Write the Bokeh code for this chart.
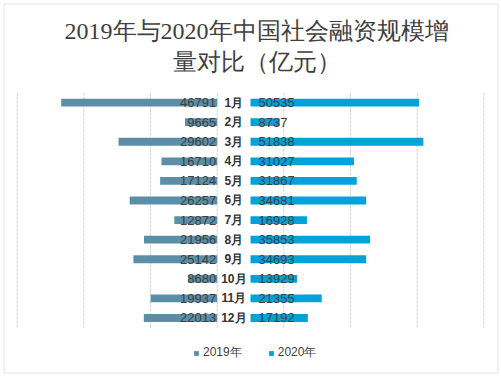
from bokeh.plotting import figure
from bokeh.models import ColumnDataSource, Range1d, Legend, LegendItem, Label, BoxAnnotation
from bokeh.core.properties import value
from bokeh.embed import file_html
from bokeh.resources import INLINE

# ---- data ----
months = ["1月", "2月", "3月", "4月", "5月", "6月", "7月", "8月", "9月", "10月", "11月", "12月"]
v2019 = [46791, 9665, 29602, 16710, 17124, 26257, 12872, 21956, 25142, 8680, 19937, 22013]
v2020 = [50535, 8737, 51838, 31027, 31867, 34681, 16928, 35853, 34693, 13929, 21355, 17192]
series = ["2019年", "2020年"]
title_lines = ["2019年与2020年中国社会融资规模增", "量对比（亿元）"]
grid_ticks = [-60000, -40000, -20000, 0, 20000, 40000, 60000, 80000]

# ---- layout constants (pixels) ----
W, H = 499, 375
GAP = 10000          # space between the two halves (value units) for month labels
UPP = 300            # value units per pixel
ZERO_PX = 216.7      # x pixel of the zero line
TOP_PX = 92.3        # y pixel of the top of the first row band
ROW_PX = 19.58       # pixel height of one row band
C19 = "#5B8FA8"
C20 = "#00A2DA"
TXT = "#404040"
FONT = "Liberation Sans"
TFONT = "Liberation Serif"


def X(px):
    return (px - ZERO_PX) * UPP


def Y(py):
    return 0.5 + (py - TOP_PX) / ROW_PX


n = len(months)
rows = [float(i + 1) for i in range(n)]
src = ColumnDataSource(dict(
    y=rows,
    month=months,
    left19=[-float(v) for v in v2019],
    right20=[float(GAP + v) for v in v2020],
    lab19=[str(v) for v in v2019],
    lab20=[str(v) for v in v2020],
))

p = figure(frame_width=W, frame_height=H,
           x_range=Range1d(X(0), X(W)), y_range=Range1d(Y(H), Y(0)),
           x_axis_location=None, y_axis_location=None,
           output_backend="svg", toolbar_location=None, min_border=0)
p.outline_line_color = None
p.xgrid.visible = False
p.ygrid.visible = False

# outer chart border
p.add_layout(BoxAnnotation(left=X(3.5), right=X(497.5), top=Y(3.5), bottom=Y(372.5),
                           fill_alpha=0, line_color="#a3a3a3", line_width=1))

# vertical grid lines limited to the category band
p.segment(x0=grid_ticks, y0=0.5, x1=grid_ticks, y1=n + 0.5,
          line_color="#d4d4d4", line_width=1, line_dash="3 1")

r19 = p.hbar(y="y", left="left19", right=0.0, height=0.4, fill_color=C19, line_color=None, source=src)
r20 = p.hbar(y="y", left=float(GAP), right="right20", height=0.4, fill_color=C20, line_color=None, source=src)

p.text(x=0.0, y="y", text="lab19", source=src, x_offset=-1, text_align="right", text_baseline="middle",
       text_font=value(FONT), text_font_size="13px", text_color=TXT)
p.text(x=float(GAP), y="y", text="lab20", source=src, x_offset=8, text_align="left", text_baseline="middle",
       text_font=value(FONT), text_font_size="13px", text_color=TXT)
p.text(x=GAP / 2, y="y", text="month", source=src, text_align="center", text_baseline="middle",
       text_font=value(FONT), text_font_size="12px", text_font_style="bold", text_color="#333333")

# title (two lines)
for line, ypx in zip(title_lines, [30, 61]):
    p.add_layout(Label(x=X(256), y=Y(ypx), text=line, text_align="center", text_baseline="middle",
                       text_font=TFONT, text_font_size="24px", text_color=TXT))

legend = Legend(items=[LegendItem(label=series[0], renderers=[r19]),
                       LegendItem(label=series[1], renderers=[r20])],
                orientation="horizontal", location=(193, 14),
                glyph_width=6, glyph_height=6, label_standoff=4, spacing=26,
                padding=0, margin=0, border_line_color=None, background_fill_alpha=0,
                label_text_font=FONT, label_text_font_size="12px", label_text_color=TXT,
                label_height=12)
p.add_layout(legend, "center")

open("out.html", "w").write(file_html(p, INLINE))
